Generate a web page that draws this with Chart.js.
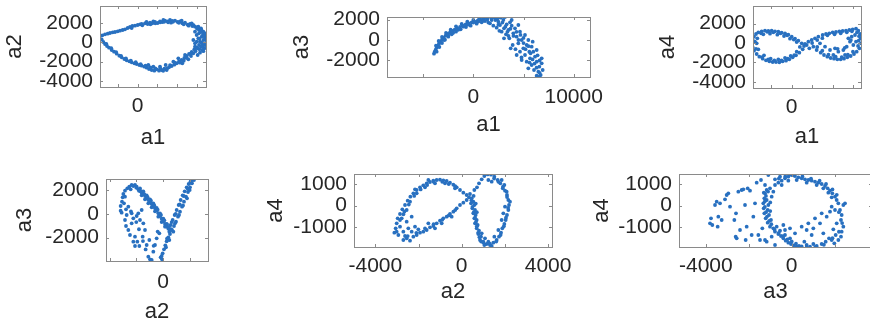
<!DOCTYPE html>
<html><head><meta charset="utf-8">
<script src="https://cdn.jsdelivr.net/npm/chart.js@4.4.1/dist/chart.umd.min.js"></script>
<style>html,body{margin:0;padding:0;background:#fff;width:870px;height:325px;overflow:hidden;position:relative}canvas{position:absolute}</style>
</head><body>
<script>
// ---------- data ----------
const a1_a2 = [[-3847,677],[-3608,747],[-3337,851],[-3064,920],[-2827,990],[-2554,1059],[-2316,1094],[-2044,1163],[-1806,1233],[-1534,1302],[-1296,1372],[-1024,1510],[-786,1615],[-548,1719],[-276,1754],[0,1823],[235,1892],[473,1788],[745,1996],[1017,1927],[1255,2066],[1493,1996],[1765,2135],[2038,2031],[2276,2205],[2514,2135],[2786,2274],[3058,2205],[3296,2344],[3534,2240],[3806,2274],[4078,2135],[4316,2205],[4554,1996],[4827,2066],[5099,1858],[5337,1927],[5575,1719],[5847,1650],[6051,1441],[6255,1302],[6459,1094],[6663,816],[6867,538],[6969,260],
[-616,1510],[405,1927],[1595,2205],[2616,2344],[3398,2066],[4487,2274],[5507,1997],
[-3677,330],[-3507,52],[-3337,-156],[-3133,-365],[-2929,-538],[-2656,-781],[-2418,-955],[-2146,-1163],[-1874,-1372],[-1636,-1545],[-1364,-1719],[-1126,-1858],[-854,-1962],[-616,-2066],[-344,-2170],[-105,-2240],[166,-2344],[405,-2413],[677,-2517],[915,-2622],[1153,-2760],[1425,-2865],[1697,-2934],[1935,-2795],[2173,-2934],[2446,-2865],[2718,-2726],[2956,-2865],[3194,-2587],[3466,-2448],[3738,-2309],[3977,-2170],[4214,-1962],[4487,-1823],[4758,-1615],[4997,-1406],[5235,-1198],[5507,-990],[5779,-712],[6017,-503],[6255,-260],[6527,-17],
[-3200,-150],[-2700,-600],[-2200,-1000],[-1700,-1400],[-1200,-1650],[-700,-1900],[-200,-2050],[300,-2250],[800,-2400],
[1085,-2344],[1595,-2517],[2276,-2517],[2854,-2344],[3636,-1997],[4146,-1649],[4554,-2170],[4827,-1302],[5166,-1753],[5439,-1406],[5677,-1128],[5847,-434],
[5847,1128],[6017,781],[6187,434],[6357,87],[6527,608],[6697,260],[6867,-260],[6799,-608],[6595,-781],[6357,-1059],[6119,-1302],[5677,260],[5847,-87],[6187,1649],[6459,1476],[6697,1128],[6936,955],[6255,955],[6017,87],[6459,-434],[6969,-87],
[900,2150],[1300,1900],[1800,2000],[2300,2100],[2700,2150],[3100,2100],[3600,2150],[4200,2050],[4700,1900],[5200,1750],[5700,1800],[6100,1600],[6400,1350],
[1300,-2600],[1800,-2700],[2300,-2700],[2600,-2950],[3000,-2700],[3300,-2350],[3800,-2100],[4300,-2100],[4700,-1900],[5000,-1600],[5400,-1150],[5900,-900],[6300,-700],[6600,-400],
[6500,1300],[6800,700],[6600,-200],[6900,300],[6300,400],[6100,-600],[6700,-900]];

const a1_a3 = [[-3914,-1334],[-3848,-1138],[-3748,-943],[-3649,-748],[-3549,-553],[-3416,-358],[-3284,-163],[-3117,33],[-2951,228],[-2752,423],[-2553,586],[-2321,748],[-2089,878],[-1856,1008],[-1591,1138],[-1325,1268],[-1059,1399],[-760,1529],[-461,1626],[-162,1724],[136,1789],[435,1887],[734,1984],[1033,2082],[1331,2179],
[-3715,-553],[-3449,-98],[-3117,293],[-2719,683],[-2254,1008],[-1723,1334],[-1158,1561],[-595,1789],[3,1951],[601,2114],
[-3649,-1138],[-3383,-683],[-3117,-293],[-2819,33],[-2487,325],[-2154,553],[-1723,813],[-1258,1041],[-727,1268],[-262,1399],[335,1594],[834,1724],
[1165,1854],[1497,2244],[1830,1951],[2161,2179],[1663,1626],[1995,1399],[2493,1789],[2726,2179],[2991,1951],[3157,2240],[2327,1203],[2659,1464],[3058,1138],[3323,1529],[2826,813],[3257,553],[3655,1724],[3822,1399],[4153,1138],[3987,651],[3589,163],[4319,325],[4651,813],[4818,0],[4485,-325],[3921,-488],[5149,488],[5315,-488],[4983,-813],[5481,0],[5814,-651],[5979,-1138],[4651,-1138],[5149,-1464],[5647,-1789],[5315,-2114],[6145,-1626],[6311,-2114],[5814,-2439],[5481,-2764],[6577,-2602],[6810,-2277],[6046,-2927],[6477,-3090],[6311,-3480],[6710,-3415],[6577,-3580],[6909,-2927],[6810,-1789],[6311,-976],[5913,-163],[4485,1464],[3822,1951],[1995,2240],[1397,1984],[2393,2049],[3489,976],[3058,163],[3722,-813],[4319,-1464],[4818,-1951],[5581,-1138],
[-2900,0],[-2500,500],[-2000,700],[-1500,1000],[-1000,1300],[-500,1500],[0,1700],[500,1800],[1000,1900],
[1800,2150],[2200,1950],[2500,1500],[2900,1700],[3200,1300],[3400,800],[3700,1100],[4000,400],[4300,800],[4500,0],[4700,500],[5000,-300],[5200,-900],[5500,-600],[5700,-1300],[5900,-1900],[6100,-2300],[6300,-2700],[6600,-3200],[6400,-1500],[6600,-2000],[5000,200],[4200,-900],[4800,-1700],[5600,-2200],[3500,400],[2600,900],[1500,1700]];

const a1_a4 = [[-3923,-34],[-3825,309],[-3825,-446],[-3695,652],[-3695,-790],[-3499,927],[-3433,-1133],[-3270,1099],[-3172,-1408],[-2943,1202],[-2845,-1614],[-2617,1270],[-2519,-1785],[-2290,1236],[-2192,-1888],[-1963,1270],[-1865,-1957],[-1637,1202],[-1539,-1957],[-1310,1167],[-1212,-1991],[-983,1064],[-885,-1888],[-657,996],[-559,-1820],[-330,858],[-232,-1682],[0,652],[95,-1476],[323,446],[421,-1270],[650,240],[748,-996],[977,-34],[1075,-652],[1205,-309],
[-3433,-34],[-3368,481],[-3270,-652],[-2780,893],[-2715,-1270],[-2127,961],[-2061,-1614],[-1408,858],[-1310,-1682],[-755,721],[-657,-1545],[-167,446],[-101,-1339],[487,103],[487,-893],
[1467,-206],[1630,137],[1728,-549],[1957,309],[2120,-378],[2283,481],[2447,-721],[2610,652],[2773,-34],[2839,-996],[3035,824],[3165,-1236],[3361,927],[3492,-1408],[3688,996],[3819,-1545],[4015,1099],[4145,-1614],[4341,1133],[4472,-1682],[4668,1202],[4799,-1682],[4995,1236],[5125,-1614],[5321,1270],[5452,-1476],[5648,1339],[5779,-1339],[5975,1408],[6105,-1133],[6301,1476],[6367,-893],[6530,1270],[6628,-549],[6693,927],[6791,-34],[6759,481],[6563,240],[6203,824],[6301,137],[6040,-206],
[3753,-721],[4243,-549],[4570,-893],[5060,-721],[5387,-378],[5713,137],[5550,481],[5877,652],[3263,-378],[4080,-1236],[5223,-1236],
[-3600,150],[-3500,-600],[-3000,1000],[-2900,-1450],[-2400,1150],[-2300,-1700],[-1800,1100],[-1700,-1800],[-1100,1000],[-1000,-1800],[-450,800],[-400,-1600],[200,350],[250,-1250],[800,-400],[1300,-100],
[2000,0],[2500,300],[3000,500],[3500,800],[4200,900],[4800,1000],[5400,1100],[5900,1200],[6400,1100],[2500,-400],[3000,-800],[3600,-1200],[4300,-1400],[4900,-1450],[5500,-1200],[6000,-900],[6500,-300],[6600,700],[4500,-600],[5200,-500],[5800,300]];

const a2_a3 = [[-2522,2285],[-2347,2425],[-2222,2341],[-2097,2425],[-1972,2285],[-2422,2060],[-2672,2144],[-2846,1948],[-2971,1667],[-3021,1387],[-2846,1443],[-3071,1021],[-2921,881],[-3171,657],[-3171,264],[-3096,95],[-2771,376],[-2597,601],[-2721,-101],[-2846,-522],[-2771,-1027],[-2597,-1364],[-2347,-803],[-2222,-382],[-1972,-185],[-1723,-522],[-2097,-1925],[-1922,-2347],[-2097,-2711],[-1773,-2711],[-1523,-1925],[-1348,-1364],[-1223,-2627],[-1024,-2206],[-1099,-3609],[-974,-3834],[-849,-3890],[-724,-3188],[-599,-2627],[-474,-2066],[-275,-1645],[-175,-3665],[-75,-3834],[-1598,320],[-1848,39],[-2347,39],[-1473,-803],[-2472,-1785],[-2222,-2347],
[-1848,2060],[-1723,1920],[-1598,1779],[-1473,1667],[-1348,1499],[-1223,1330],[-1099,1162],[-974,994],[-849,825],[-724,657],[-599,460],[-474,264],[-350,39],[-225,-185],[-100,-410],[25,-634],[150,-859],[275,-1083],[399,-1252],
[-1723,2144],[-1473,1892],[-1223,1555],[-974,1218],[-724,881],[-474,488],[-225,39],[25,-410],[275,-859],
[-1598,1555],[-1348,1218],[-1099,881],[-849,545],[-599,208],[-350,-241],[-100,-690],[150,-1083],[524,-1420],
[574,-943],[724,-522],[874,-101],[1024,320],[1174,741],[1323,1162],[1473,1555],[1623,1892],[1773,2229],[1923,2509],[2072,2734],[2197,2850],
[-25,-3329],[75,-2992],[175,-2655],[275,-2318],[399,-1981],[524,-1701],[674,-1364],[824,-1027],[974,-663],[1124,-241],[1273,179],[1423,601],[1573,1021],[1723,1443],[1873,1836],[2022,2229],[2172,2565],[2322,2846],
[-100,-3553],[225,-2823],[474,-2206],[774,-1504],[474,-1504],
[-2000,2200],[-1800,1950],[-1650,1900],[-1400,1650],[-1150,1400],[-900,1100],[-650,700],[-400,350],[-150,-100],[100,-550],[300,-900],[450,-1100],
[650,-700],[950,0],[1250,800],[1550,1500],[1850,2100],[2100,2600],[300,-2100],[600,-1300],[900,-800],[1200,-100],[1500,700],[1800,1300],[2000,2000],
[-2400,200],[-2000,-700],[-1800,-1300],[-1500,-2300],[-1300,-3000],[-700,-2700],[-400,-1500]];

const a2_a4 = [[-3119,-1243],[-3057,-1043],[-3011,-813],[-2965,-582],[-2857,-383],[-2749,-167],[-2625,32],[-2502,232],[-2378,416],[-2239,570],[-2085,724],[-1931,847],[-1777,939],[-1622,1031],[-1468,1093],[-1314,1154],[-1159,1185],[-1005,1200],[-851,1170],[-696,1139],[-542,1062],[-387,969],[-233,847],[-79,724],[76,601],[230,493],[338,386],
[-2857,-659],[-2656,-275],[-2394,186],[-2085,570],[-1699,847],[-1236,1031],[-773,1031],[-310,801],[-1545,1185],[-2162,755],
[-2934,-1351],[-2702,-1581],[-2548,-1504],[-2394,-1612],[-2239,-1428],[-2085,-1351],[-1931,-1243],[-1777,-1197],[-1622,-1120],[-1468,-997],[-1314,-936],[-1159,-813],[-1005,-690],[-851,-582],[-696,-506],[-542,-383],[-387,-275],[-233,-121],[-79,32],[76,140],[230,263],
[-2857,-967],[-2702,-1197],[-2471,-1043],[-2779,-582],[-2548,-736],[-2316,-1197],[-2162,-967],[-2625,-1397],[-2008,-1089],[-2316,-506],[-2548,-198],[-1545,-813],[-1236,-1043],[-927,-813],[-464,-506],[-3011,-1197],
[384,539],[462,340],[539,186],[431,109],[585,32],[492,-121],[616,-198],[539,-352],[647,-429],[585,-582],[693,-659],[616,-813],[739,-890],[693,-1043],[801,-1151],[770,-1305],[894,-1428],[847,-1581],[1002,-1658],[1156,-1766],[1310,-1812],[1233,-1658],[1464,-1704],[1619,-1581],[1727,-1428],[1820,-1243],[1881,-1043],[1974,-844],[2036,-659],[2097,-429],[2159,-198],[2190,32],[2159,263],[2097,493],[2005,693],[1912,877],[1789,1031],[1665,1185],[1511,1338],[1357,1431],[1202,1440],[1048,1369],[925,1216],[801,1031],[708,847],[585,724],
[1851,1185],[1974,954],[2236,186],[2005,-45],[1927,-352],[1851,-659],[1696,-1120],[1511,-1428],[1079,-1504],[1233,1185],[1388,1108],[2082,647],[925,-1274],[1048,-1812],[1388,-1858],
[-2700,-400],[-2450,50],[-2200,450],[-1900,750],[-1600,950],[-1300,1100],[-900,1100],[-600,1000],[-300,900],
[-2500,-1400],[-2100,-1250],[-1700,-1050],[-1300,-850],[-900,-650],[-600,-450],[-300,-200],
[450,250],[500,-50],[560,-300],[620,-550],[660,-750],[700,-950],[760,-1250],[820,-1450],[900,-1650],[550,450],[650,100],[700,-300],
[1500,1250],[1700,1100],[1900,800],[2100,400],[2150,-100],[2050,-550],[1950,-950],[1800,-1350],[1600,-1650],[1300,-1750],[1000,-1700]];

const a3_a4 = [[-1244,570],[-1275,340],[-1322,109],[-1306,-121],[-1275,-352],[-1213,-582],[-1120,-782],[-1011,-967],[-1166,263],[-1089,32],[-1120,-198],[-1058,-429],[-965,-659],[-1166,724],[-1011,801],[-933,416],[-856,647],
[-856,-1043],[-778,-1197],[-623,-1305],[-499,-1397],[-390,-1504],[-281,-1612],[-157,-1704],[-33,-1766],[92,-1827],[232,-1889],[340,-1858],[465,-1880],[-700,-967],[-545,-1151],[-312,-1351],[-79,-1504],
[-778,954],[-623,1062],[-467,1154],[-312,1262],[-157,1338],[0,1415],[154,1369],[309,1308],[465,1262],[620,1216],[775,1185],[931,1154],[1086,1108],[1241,1062],[1397,1000],[1552,908],[1676,801],[1785,693],[1893,570],[2018,416],[2096,263],[2173,109],[2406,32],[2484,109],
[-467,954],[-157,1154],[232,1185],[698,1062],[1164,954],[1474,801],[1707,601],[1863,386],[-778,1216],[-545,1338],[-79,1440],[-1089,1415],[-1244,954],
[2251,-198],[2329,-429],[2297,-659],[2406,-967],[2329,-1197],[2297,-1428],[2173,-1581],[2049,-1351],[1940,-1089],[2096,-813],[1863,-1581],[1987,-1735],
[698,-1812],[853,-1889],[1008,-1766],[1164,-1858],[1397,-1766],[1583,-1658],[1738,-1504],[589,-1658],
[-312,-1120],[154,-1274],[465,-967],[698,-1120],[775,-813],[1008,-1043],[1086,-582],[1319,-813],[1397,-352],[1630,-506],[1785,-275],[1863,-45],[2018,-198],[931,-1351],[1474,-1274],[-390,-890],[-79,-1043],
[-3807,-813],[-3761,-582],[-3699,-890],[-3496,186],[-3574,32],[-3341,109],[-3419,-506],[-3263,-659],[-3450,-967],[-3108,294],[-3030,493],[-2953,570],[-2673,-659],[-2611,-1428],[-2564,-1504],[-2487,647],[-2331,724],[-2254,755],[-2176,32],[-2145,-1581],[-2052,801],[-1943,693],[-1865,-1351],[-1788,-506],[-1710,109],[-1555,-1351],[-1477,-1581],[-1632,1062],[-1431,1185],[-1369,-1043],[-1244,-1581],[-1166,-1658],[-933,-1428],[-778,-1812],[-2596,-352],[-2875,-45],[-2409,-1120],[-2098,-967],
[-1200,450],[-1250,200],[-1250,-50],[-1200,-300],[-1150,-500],[-1050,-700],[-950,-850],[-1300,600],[-1100,650],[-1000,150],[-1000,-250],
[-600,1250],[-300,1350],[100,1400],[500,1350],[900,1250],[1300,1150],[1600,1000],[1900,750],[2100,500],
[-800,-1100],[-600,-1250],[-400,-1400],[-200,-1550],[0,-1650],[200,-1750],
[2200,-300],[2350,-800],[2200,-1200],[1900,-1500],[1500,-1800],[1100,-1900],[700,-1900]];

// axis limits [xmin, xmax, ymin, ymax] and ticks
const lim1 = [-3847, 6969, -4636, 3802];
const lim2 = [-8595, 11623, -3611, 2245];
const lim3 = [-3793, 6791, -4635, 3811];
const lim4 = [-4269, 3371, -3974, 2930];
const lim5 = [-4987, 4181, -1904, 1461];
const lim6 = [-5252, 3742, -1904, 1461];
const xTicks1 = [-2000, 0, 2000, 4000, 6000], xLabels1 = [0];
const xTicks2 = [-5000, 0, 5000, 10000], xLabels2 = [0, 10000];
const xTicks3 = [-2000, 0, 2000, 4000, 6000], xLabels3 = [0];
const xTicks4 = [-4000, -2000, 0, 2000], xLabels4 = [0];
const xTicks5 = [-4000, -2000, 0, 2000, 4000], xLabels5 = [-4000, 0, 4000];
const xTicks6 = [-4000, -2000, 0, 2000], xLabels6 = [-4000, 0];
const yTicks1 = [-4000, -2000, 0, 2000];
const yTicks2 = [-2000, 0, 2000];
const yTicks3 = [-4000, -2000, 0, 2000];
const yTicks4 = [-2000, 0, 2000];
const yTicks5 = [-1000, 0, 1000];
const yTicks6 = [-1000, 0, 1000];

// ---------- drawing ----------
const FONT = '"Liberation Sans", Arial, Helvetica, sans-serif';
const TXT = '#262626';
const DOT = 'rgb(40,112,192)';
const TICK_SIZE = 21, TITLE_SIZE = 22;

const boxPlugin = {
  id: 'matBox',
  afterDatasetsDraw(chart, args, o) {
    const {ctx, chartArea: a} = chart;
    const x = chart.scales.x, y = chart.scales.y;
    ctx.save();
    ctx.strokeStyle = '#8a8a8a';
    ctx.lineWidth = 1;
    ctx.beginPath();
    const t = 3;
    o.xTicks.forEach(v => {
      const px = Math.round(x.getPixelForValue(v)) + 0.5;
      ctx.moveTo(px, a.bottom); ctx.lineTo(px, a.bottom - t);
      ctx.moveTo(px, a.top); ctx.lineTo(px, a.top + t);
    });
    o.yTicks.forEach(v => {
      const py = Math.round(y.getPixelForValue(v)) + 0.5;
      ctx.moveTo(a.left, py); ctx.lineTo(a.left + t, py);
      ctx.moveTo(a.right, py); ctx.lineTo(a.right - t, py);
    });
    ctx.stroke();
    ctx.strokeRect(Math.round(a.left) + 0.5, Math.round(a.top) + 0.5, Math.round(a.right - a.left), Math.round(a.bottom - a.top));
    ctx.restore();
  }
};

function makePlot(p) {
  const [bl, bt, br, bb] = p.box;
  const lh = TITLE_SIZE * 1.2;
  const cl = Math.round(p.yTitleX - lh / 2);
  const ct = bt - 12;
  const cb = Math.round(p.xTitleY + lh / 2);
  const cr = br + 45;
  const L = bl - cl, T = bt - ct, B = cb - bb, R = cr - br;
  const cv = document.createElement('canvas');
  cv.width = cr - cl; cv.height = cb - ct;
  cv.style.left = cl + 'px'; cv.style.top = ct + 'px';
  cv.style.width = (cr - cl) + 'px'; cv.style.height = (cb - ct) + 'px';
  document.body.appendChild(cv);
  const fix = (size, horiz) => s => {
    if (horiz) s.height = size; else s.width = size;
    s.paddingLeft = s.paddingRight = s.paddingTop = s.paddingBottom = 0;
  };
  const tickFont = {family: FONT, size: TICK_SIZE, lineHeight: 1.2};
  const titleFont = {family: FONT, size: TITLE_SIZE, lineHeight: 1.2};
  new Chart(cv, {
    type: 'scatter',
    data: {datasets: [{
      data: p.data.map(([x, y]) => ({x, y})),
      backgroundColor: DOT, borderWidth: 0, pointRadius: 1.9, pointHoverRadius: 1.9
    }]},
    options: {
      responsive: false, animation: false, devicePixelRatio: 1, events: [],
      layout: {padding: {left: 0, top: T, right: R, bottom: 0}},
      plugins: {legend: {display: false}, tooltip: {enabled: false},
        matBox: {xTicks: p.xTicks, yTicks: p.yTicks}},
      scales: {
        x: {
          type: 'linear', position: 'bottom', min: p.lim[0], max: p.lim[1],
          afterBuildTicks: s => { s.ticks = p.xTicks.map(v => ({value: v})); },
          afterFit: fix(B, true),
          grid: {display: false, drawTicks: false}, border: {display: false},
          ticks: {autoSkip: false, maxRotation: 0, minRotation: 0, padding: p.xPad, color: TXT, font: tickFont,
            callback: v => p.xLabels.includes(v) ? String(v) : ''},
          title: {display: true, text: p.xTitle, color: TXT, font: titleFont, padding: 0}
        },
        y: {
          type: 'linear', position: 'left', min: p.lim[2], max: p.lim[3],
          afterBuildTicks: s => { s.ticks = p.yTicks.map(v => ({value: v})); },
          afterFit: fix(L, false),
          grid: {display: false, drawTicks: false}, border: {display: false},
          ticks: {autoSkip: false, padding: 7, color: TXT, font: tickFont,
            callback: v => String(v)},
          title: {display: true, text: p.yTitle, color: TXT, font: titleFont, padding: 0}
        }
      }
    },
    plugins: [boxPlugin]
  });
}

[
  {data: a1_a2, box: [100, 6, 206, 87], lim: lim1, xTicks: xTicks1, xLabels: xLabels1, yTicks: yTicks1, xTitle: 'a1', yTitle: 'a2', yTitleX: 15.3, xTitleY: 137.5, xPad: 7},
  {data: a1_a3, box: [387, 17, 590, 77], lim: lim2, xTicks: xTicks2, xLabels: xLabels2, yTicks: yTicks2, xTitle: 'a1', yTitle: 'a3', yTitleX: 302.3, xTitleY: 125, xPad: 8},
  {data: a1_a4, box: [753, 6, 861, 88], lim: lim3, xTicks: xTicks3, xLabels: xLabels3, yTicks: yTicks3, xTitle: 'a1', yTitle: 'a4', yTitleX: 668.3, xTitleY: 137, xPad: 7},
  {data: a2_a3, box: [106, 179, 208, 261], lim: lim4, xTicks: xTicks4, xLabels: xLabels4, yTicks: yTicks4, xTitle: 'a2', yTitle: 'a3', yTitleX: 25, xTitleY: 311.7, xPad: 9},
  {data: a2_a4, box: [354, 174, 552, 247], lim: lim5, xTicks: xTicks5, xLabels: xLabels5, yTicks: yTicks5, xTitle: 'a2', yTitle: 'a4', yTitleX: 275.8, xTitleY: 291.7, xPad: 7},
  {data: a3_a4, box: [679, 174, 872, 247], lim: lim6, xTicks: xTicks6, xLabels: xLabels6, yTicks: yTicks6, xTitle: 'a3', yTitle: 'a4', yTitleX: 602, xTitleY: 291.7, xPad: 7}
].forEach(makePlot);
</script>
</body></html>
